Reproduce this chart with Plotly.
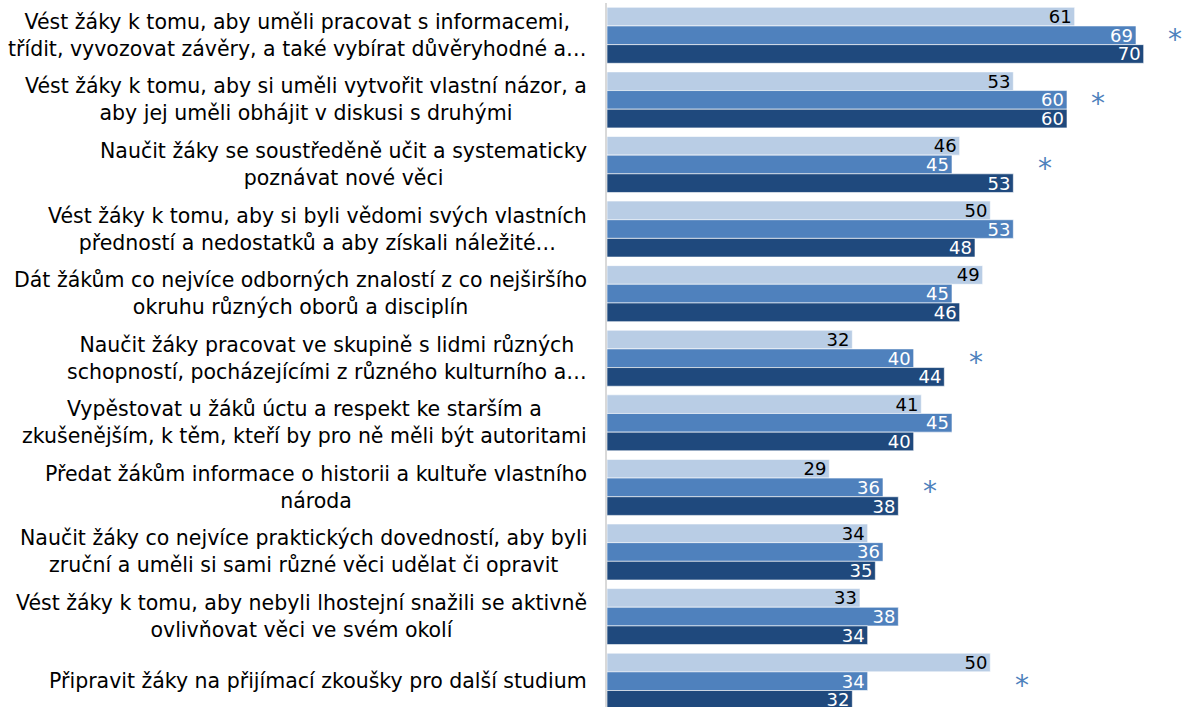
import plotly.graph_objects as go

# Data
labels = [
    "Vést žáky k tomu, aby uměli pracovat s informacemi,<br>třídit, vyvozovat závěry, a také vybírat důvěryhodné a…",
    "Vést žáky k tomu, aby si uměli vytvořit vlastní názor, a<br>aby jej uměli obhájit v diskusi s druhými",
    "Naučit žáky se soustředěně učit a systematicky<br>poznávat nové věci",
    "Vést žáky k tomu, aby si byli vědomi svých vlastních<br>předností a nedostatků a aby získali náležité…",
    "Dát žákům co nejvíce odborných znalostí z co nejširšího<br>okruhu různých oborů a disciplín",
    "Naučit žáky pracovat ve skupině s lidmi různých<br>schopností, pocházejícími z různého kulturního a…",
    "Vypěstovat u žáků úctu a respekt ke starším a<br>zkušenějším, k těm, kteří by pro ně měli být autoritami",
    "Předat žákům informace o historii a kultuře vlastního<br>národa",
    "Naučit žáky co nejvíce praktických dovedností, aby byli<br>zruční a uměli si sami různé věci udělat či opravit",
    "Vést žáky k tomu, aby nebyli lhostejní snažili se aktivně<br>ovlivňovat věci ve svém okolí",
    "Připravit žáky na přijímací zkoušky pro další studium",
]
series_a = [61, 53, 46, 50, 49, 32, 41, 29, 34, 33, 50]
series_b = [69, 60, 45, 53, 45, 40, 45, 36, 36, 38, 34]
series_c = [70, 60, 53, 48, 46, 44, 40, 38, 35, 34, 32]
significant = [True, True, True, False, False, True, False, True, False, False, True]

FONT = "DejaVu Sans"
COLORS = ["#B9CDE5", "#4F81BD", "#1F497D"]
TEXT_COLORS = ["#000000", "#FFFFFF", "#FFFFFF"]

fig = go.Figure()
for vals, col, tcol in zip([series_a, series_b, series_c], COLORS, TEXT_COLORS):
    fig.add_trace(go.Bar(
        y=labels, x=vals, orientation="h",
        marker=dict(color=col, line=dict(color="rgba(255,255,255,0.6)", width=1)),
        text=[str(v) for v in vals],
        textposition="inside", insidetextanchor="end",
        textfont=dict(family=FONT, size=18, color=tcol),
        constraintext="none", cliponaxis=False,
        showlegend=False,
    ))

# category labels as centered multi-line annotations
for lab in labels:
    fig.add_annotation(
        x=0, xref="paper", y=lab, yref="y", text=lab,
        xanchor="right", yanchor="middle", align="center", xshift=-18,
        showarrow=False, font=dict(family=FONT, size=20.5, color="#000000"),
    )

# significance markers, a little to the right of the longest bar
for lab, a, b, c, sig in zip(labels, series_a, series_b, series_c, significant):
    if sig:
        fig.add_annotation(
            x=max(a, b, c) + 4.1, y=lab, yref="y", text="*",
            showarrow=False, yshift=-4,
            font=dict(family=FONT, size=28, color="#4F81BD"),
        )

fig.update_layout(
    width=1182, height=707,
    barmode="group", bargap=0.133, bargroupgap=0,
    margin=dict(l=607, r=0, t=3, b=0, autoexpand=False),
    paper_bgcolor="white", plot_bgcolor="white",
    xaxis=dict(range=[0, 75], visible=False, showgrid=False),
    yaxis=dict(range=[10.4, -0.5], showticklabels=False, showgrid=False,
               showline=True, linecolor="#D9D9D9", linewidth=2, ticks=""),
)

# drop the page's default body margin so the figure sits at the top-left corner
fig.write_html("out.html", config={"displayModeBar": False},
               post_script="document.body.style.margin='0';")
